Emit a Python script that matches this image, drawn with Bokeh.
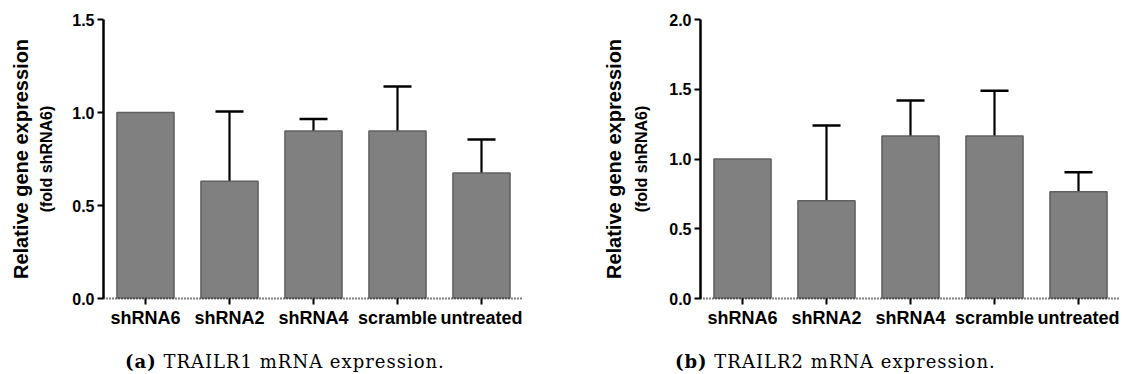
from bokeh.plotting import figure
from bokeh.layouts import row, column
from bokeh.models import (ColumnDataSource, Whisker, TeeHead, FixedTicker,
                          NumeralTickFormatter, LinearAxis, Div)
from bokeh.embed import file_html
from bokeh.resources import INLINE

categories = ["shRNA6", "shRNA2", "shRNA4", "scramble", "untreated"]
trailr1_mean = [1.0, 0.63, 0.90, 0.90, 0.675]
trailr1_upper = [1.0, 1.005, 0.965, 1.14, 0.855]
trailr2_mean = [1.0, 0.70, 1.165, 1.165, 0.765]
trailr2_upper = [1.0, 1.24, 1.42, 1.49, 0.905]
y_ticks_a = [0.0, 0.5, 1.0, 1.5]
y_ticks_b = [0.0, 0.5, 1.0, 1.5, 2.0]
captions = [("(a)", "TRAILR1 mRNA expression."), ("(b)", "TRAILR2 mRNA expression.")]
ylabel1 = "Relative gene expression"
ylabel2 = "(fold shRNA6)"

SANS = "Liberation Sans"
SERIF = "'DejaVu Serif', serif"


def make(mean, upper, yticks, border_left, border_right, cap, cap_pad,
         std_inner, std_outer):
    ymax = yticks[-1]
    p = figure(x_range=categories, y_range=(0, ymax), width=border_left + 420 + border_right,
               height=330, output_backend="svg", toolbar_location=None,
               min_border_left=border_left, min_border_right=border_right,
               min_border_top=19, min_border_bottom=30, margin=0)
    p.x_range.range_padding = 0
    p.outline_line_color = None
    p.xgrid.grid_line_color = None
    p.ygrid.grid_line_color = None

    src = ColumnDataSource(dict(cat=categories, mean=mean))
    p.vbar(x="cat", top="mean", width=0.68, source=src, fill_color="#808080",
           line_color="#606060", line_width=1.5)

    ec = [c for c, m, u in zip(categories, mean, upper) if u > m]
    em = [m for c, m, u in zip(categories, mean, upper) if u > m]
    eu = [u for c, m, u in zip(categories, mean, upper) if u > m]
    esrc = ColumnDataSource(dict(cat=ec, mean=em, upper=eu))
    w = Whisker(base="cat", lower="mean", upper="upper", source=esrc,
                line_color="black", line_width=2.2,
                upper_head=TeeHead(size=28, line_color="black", line_width=2.5),
                lower_head=None)
    p.add_layout(w)

    ya = p.yaxis[0]
    ya.ticker = FixedTicker(ticks=yticks)
    ya.formatter = NumeralTickFormatter(format="0.0")
    ya.axis_line_width = 2.5
    ya.major_tick_line_width = 2
    ya.major_tick_out = 6
    ya.major_tick_in = 0
    ya.minor_tick_line_color = None
    ya.major_label_text_font = SANS
    ya.major_label_text_font_style = "bold"
    ya.major_label_text_font_size = "16px"
    ya.major_label_text_color = "black"
    ya.major_label_standoff = 3
    ya.axis_label = ylabel2
    ya.axis_label_text_font = SANS
    ya.axis_label_text_font_style = "bold"
    ya.axis_label_text_font_size = "16px"
    ya.axis_label_text_color = "black"
    ya.axis_label_standoff = std_inner

    outer = LinearAxis(axis_label=ylabel1, axis_line_color=None,
                       major_tick_line_color=None, minor_tick_line_color=None,
                       major_label_text_font_size="0px",
                       ticker=FixedTicker(ticks=[]),
                       axis_label_text_font=SANS, axis_label_text_font_style="bold",
                       axis_label_text_font_size="20px", axis_label_text_color="black",
                       axis_label_standoff=std_outer)
    p.add_layout(outer, "left")

    xa = p.xaxis[0]
    xa.axis_line_width = 2
    xa.axis_line_dash = "1 2"
    xa.major_tick_line_width = 2
    xa.major_tick_out = 6
    xa.major_tick_in = 0
    xa.major_label_text_font = SANS
    xa.major_label_text_font_style = "bold"
    xa.major_label_text_font_size = "18px"
    xa.major_label_text_color = "black"
    xa.major_label_standoff = 3

    div = Div(text=f"<b>{cap[0]}</b> {cap[1]}", width=p.width, height=44, margin=0,
              styles={"font-family": SERIF, "font-size": "18px", "color": "black",
                      "letter-spacing": "1px", "line-height": "20px",
                      "padding-left": f"{cap_pad}px", "padding-top": "22px",
                      "white-space": "nowrap"})
    return column(p, div, spacing=0)


pa = make(trailr1_mean, trailr1_upper, y_ticks_a, 103, 38, captions[0], 125, 14, 4)
pb = make(trailr2_mean, trailr2_upper, y_ticks_b, 139, 2, captions[1], 114, 16, 6)

layout = row(pa, pb, spacing=0)
open("out.html", "w").write(file_html(layout, INLINE))
